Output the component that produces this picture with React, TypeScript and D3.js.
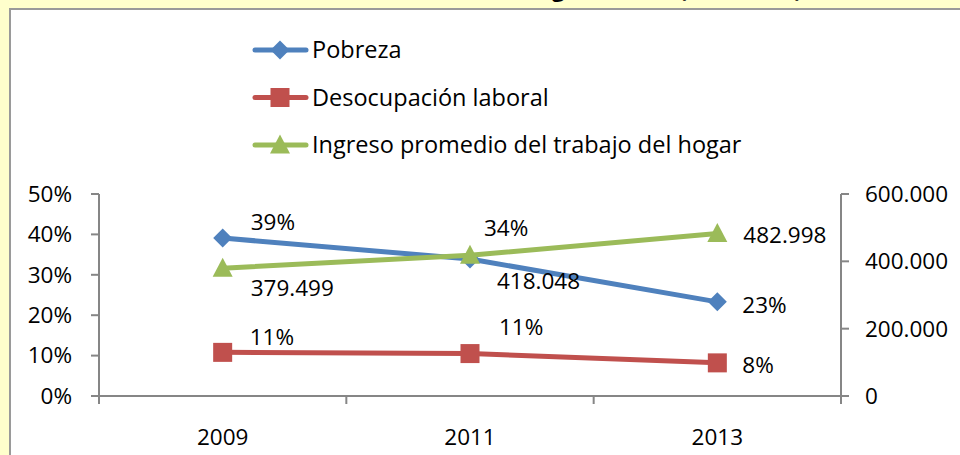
import * as d3 from "d3";

const years = ["2009", "2011", "2013"];
const pobreza = [0.391, 0.339, 0.233];
const desocupacion = [0.108, 0.105, 0.082];
const ingreso = [379499, 418048, 482998];
const leftTicks = [0, 0.1, 0.2, 0.3, 0.4, 0.5];
const rightTicks = [0, 200000, 400000, 600000];
const seriesNames = [
  "Pobreza",
  "Desocupación laboral",
  "Ingreso promedio del trabajo del hogar",
];
const title = "Evolución de indicadores sociales del hogar chileno (2009-2013)";

// label offsets from the marker (manually placed in the original)
const pobrezaLabelOff = [[28, -16], [14, -31], [25, 3]];
const desocLabelOff = [[27, -15], [29, -26], [25, 2]];
const ingresoLabelOff = [[28, 20], [27, 26], [26, 2]];

const BLUE = "#4F81BD";
const RED = "#C0504D";
const GREEN = "#9BBB59";
const AXIS = "#868686";
const FONT = "'Open Sans', 'Noto Sans', sans-serif";
const FS = 22.5;

const es = d3.formatLocale({
  decimal: ",",
  thousands: ".",
  grouping: [3],
  currency: ["$", ""],
});
const fmtMoney = es.format(",d");
const fmtPct = d3.format(".0%");

const Marker = ({ type, x, y, color }: any) => {
  if (type === "diamond") {
    const r = 9.5;
    return (
      <path
        d={`M${x},${y - r}L${x + r},${y}L${x},${y + r}L${x - r},${y}Z`}
        fill={color}
      />
    );
  }
  if (type === "square") {
    return <rect x={x - 9.5} y={y - 9.5} width={19} height={19} fill={color} />;
  }
  const h = 19;
  return (
    <path
      d={`M${x},${y - h / 2 - 1}L${x + 10},${y + h / 2 - 1}L${x - 10},${y + h / 2 - 1}Z`}
      fill={color}
    />
  );
};

const App = () => {
  const width = 960;
  const height = 455;
  const x = d3.scaleBand().domain(years).range([99, 841]);
  const yL = d3.scaleLinear().domain([0, 0.5]).range([396, 194]);
  const yR = d3.scaleLinear().domain([0, 600000]).range([396, 194]);
  const cx = (d: string) => (x(d) as number) + x.bandwidth() / 2;

  const line = d3.line<[number, number]>().x((d) => d[0]).y((d) => d[1]);

  const series = [
    { name: seriesNames[0], color: BLUE, marker: "diamond", pts: pobreza.map((v, i) => [cx(years[i]), yL(v)] as [number, number]), labels: pobreza.map(fmtPct), off: pobrezaLabelOff },
    { name: seriesNames[1], color: RED, marker: "square", pts: desocupacion.map((v, i) => [cx(years[i]), yL(v)] as [number, number]), labels: desocupacion.map(fmtPct), off: desocLabelOff },
    { name: seriesNames[2], color: GREEN, marker: "triangle", pts: ingreso.map((v, i) => [cx(years[i]), yR(v)] as [number, number]), labels: ingreso.map(fmtMoney), off: ingresoLabelOff },
  ];

  const boundaries = [...years.map((d) => x(d) as number), 841];

  return (
    <div style={{ position: "absolute", left: 0, top: 0 }}>
      <svg width={width} height={height} style={{ display: "block" }} fontFamily={FONT}>
        <rect x={0} y={0} width={width} height={height} fill="#FFFFCC" />
        <text x={802} y={-3} textAnchor="end" fontSize={22} fontWeight="bold" fill="#000">
          {title}
        </text>
        <rect x={10} y={9} width={970} height={470} fill="#fff" stroke="#9a9a9a" strokeWidth={2} />

        {/* legend */}
        {series.map((s, i) => {
          const ly = 50 + i * 47.5;
          return (
            <g key={s.name}>
              <line x1={255} x2={306} y1={ly} y2={ly} stroke={s.color} strokeWidth={5} strokeLinecap="round" />
              <Marker type={s.marker} x={280} y={ly} color={s.color} />
              <text x={312} y={ly} dy="0.35em" fontSize={23.5} fill="#000">
                {s.name}
              </text>
            </g>
          );
        })}

        {/* axes */}
        <g stroke={AXIS} strokeWidth={2} fill="none">
          <line x1={99} x2={99} y1={194} y2={404} />
          <line x1={841} x2={841} y1={194} y2={404} />
          <line x1={99} x2={841} y1={396} y2={396} />
          {leftTicks.map((t) => (
            <line key={t} x1={91} x2={99} y1={yL(t)} y2={yL(t)} />
          ))}
          {rightTicks.map((t) => (
            <line key={t} x1={841} x2={849} y1={yR(t)} y2={yR(t)} />
          ))}
          {boundaries.map((b) => (
            <line key={b} x1={b} x2={b} y1={396} y2={404} />
          ))}
        </g>
        {leftTicks.map((t) => (
          <text key={t} x={72} y={yL(t)} dy="0.35em" textAnchor="end" fontSize={FS} fill="#000">
            {fmtPct(t)}
          </text>
        ))}
        {rightTicks.map((t) => (
          <text key={t} x={865} y={yR(t)} dy="0.35em" fontSize={FS} fill="#000">
            {fmtMoney(t)}
          </text>
        ))}
        {years.map((d) => (
          <text key={d} x={cx(d)} y={437} dy="0.35em" textAnchor="middle" fontSize={FS} fill="#000">
            {d}
          </text>
        ))}

        {/* series */}
        {series.map((s) => (
          <g key={s.name}>
            <path d={line(s.pts) as string} fill="none" stroke={s.color} strokeWidth={5} strokeLinejoin="round" />
            {s.pts.map((p, i) => (
              <Marker key={i} type={s.marker} x={p[0]} y={p[1]} color={s.color} />
            ))}
          </g>
        ))}
        {series.map((s) =>
          s.pts.map((p, i) => (
            <text
              key={s.name + i}
              x={p[0] + s.off[i][0]}
              y={p[1] + s.off[i][1]}
              dy="0.35em"
              fontSize={FS}
              fill="#000"
            >
              {s.labels[i]}
            </text>
          ))
        )}
      </svg>
    </div>
  );
};

export default App;
